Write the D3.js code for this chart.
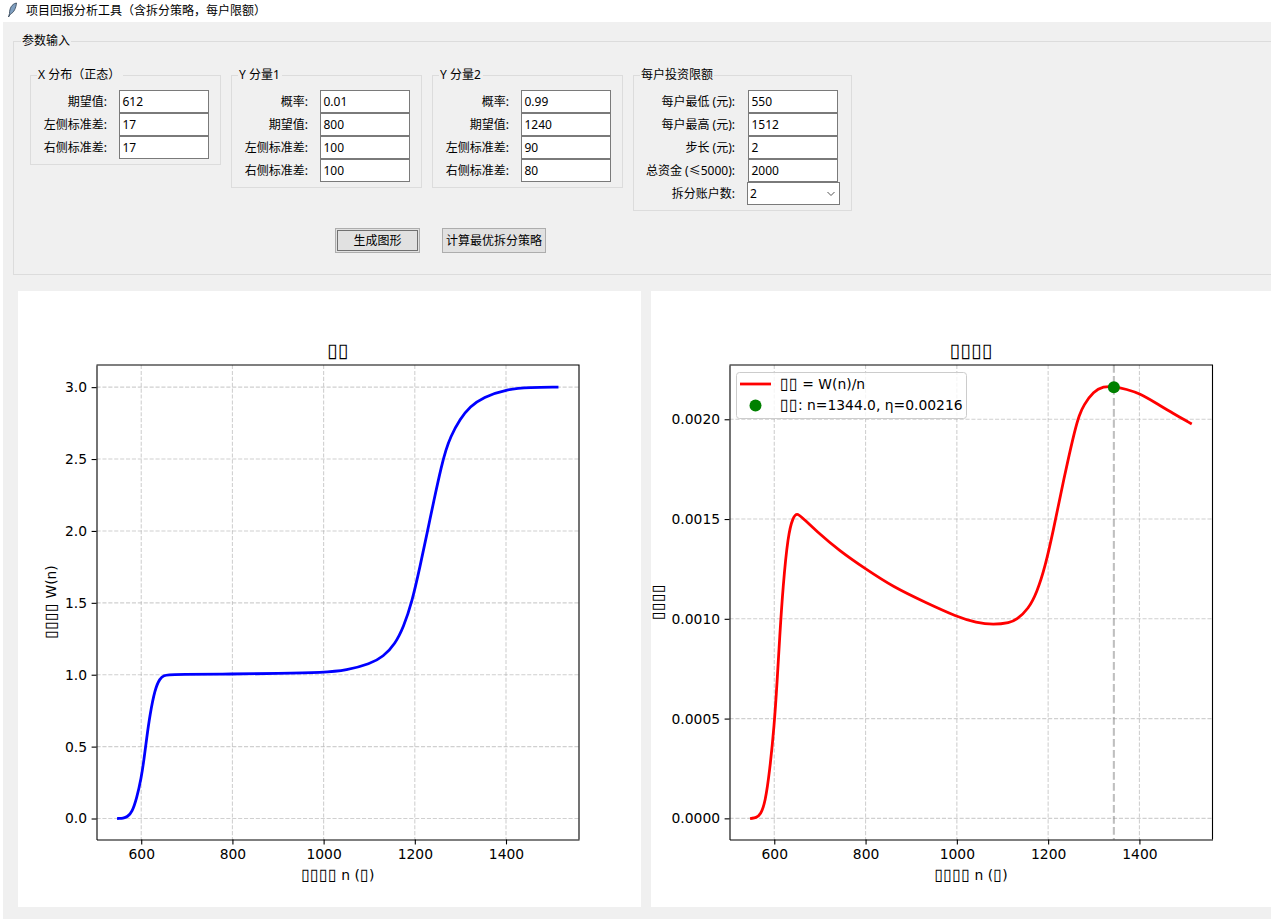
<!DOCTYPE html>
<html lang="zh">
<head>
<meta charset="utf-8">
<title>项目回报分析工具</title>
<script src="https://d3js.org/d3.v7.min.js"></script>
<style>
    html, body { margin: 0; padding: 0; background: #fff; overflow: hidden; }
    svg { display: block; }
    .ui text { font-family: "Noto Sans", "Noto Sans CJK SC", sans-serif; font-size: 12px; fill: #000; }
    .plot text { font-family: "DejaVu Sans", sans-serif; font-size: 13.89px; fill: #000; }
    .plot .domain, .plot .tick line { stroke: #000; stroke-width: 1.1px; }
    .grid line { stroke: #b0b0b0; stroke-opacity: .6; stroke-width: 1.1px; stroke-dasharray: 4.1 1.8; }
</style>
</head>
<body>
<div id="chart"></div>
<script>
// values
var wN   = [550, 560, 570, 580, 590, 600, 606, 612, 619, 630, 641, 650, 660, 680, 800, 900, 1000, 1050, 1102, 1131, 1157, 1175, 1193.5, 1212, 1228, 1241, 1259, 1268, 1277.5, 1299.5, 1321, 1350, 1400, 1453, 1512];
var wVal = [0, 0.002, 0.012, 0.045, 0.14, 0.28, 0.41, 0.56, 0.72, 0.9, 0.975, 0.995, 1.0, 1.002, 1.005, 1.008, 1.015, 1.03, 1.075, 1.125, 1.215, 1.33, 1.5, 1.76, 2.0, 2.2, 2.46, 2.56, 2.65, 2.78, 2.865, 2.93, 2.985, 2.998, 3.0];

var etaN   = [550, 560, 570, 580, 590, 600, 606, 612, 619, 630, 641, 650, 660, 692, 743, 800, 860, 933, 1000, 1043, 1080, 1116, 1131, 1157, 1175, 1193.5, 1212, 1228, 1241, 1259, 1268, 1277.5, 1299.5, 1321, 1344, 1372, 1400, 1437, 1473, 1512];
var etaVal = [0, 0.000003, 0.000018, 0.000078, 0.000237, 0.000467, 0.000677, 0.000915, 0.00116, 0.00142, 0.00151, 0.00153, 0.00151, 0.00144, 0.00134, 0.00125, 0.00116, 0.00108, 0.00101, 0.00098, 0.00097, 0.00098, 0.000995, 0.00105, 0.00113, 0.00126, 0.00145, 0.00163, 0.00177, 0.00195, 0.00202, 0.00207, 0.00214, 0.002165, 0.002165, 0.00215, 0.00213, 0.00208, 0.00203, 0.00198];

var bestN = 1344.0;
var bestEta = 0.00216;

var xTicks = [600, 800, 1000, 1200, 1400];
var wTicks = [0, 0.5, 1, 1.5, 2, 2.5, 3];
var etaTicks = [0, 0.0005, 0.001, 0.0015, 0.002];

var xLabels = ["期望值:", "左侧标准差:", "右侧标准差:"];
var xInputs = ["612", "17", "17"];
var y1Labels = ["概率:", "期望值:", "左侧标准差:", "右侧标准差:"];
var y1Inputs = ["0.01", "800", "100", "100"];
var y2Inputs = ["0.99", "1240", "90", "80"];
var limitLabels = ["每户最低 (元):", "每户最高 (元):", "步长 (元):", "总资金 (≤5000):", "拆分账户数:"];
var limitInputs = ["550", "1512", "2", "2000", "2"];

var BOX = "\u25AF"; // the picture shows missing-glyph boxes in the plot text

var svg = d3.select("#chart").append("svg")
    .attr("width", 1271)
    .attr("height", 919);

//____________________________ window and form ____________________________

var ui = svg.append("g").attr("class", "ui");

ui.append("rect").attr("x", 3).attr("y", 22).attr("width", 1268).attr("height", 897).attr("fill", "#f0f0f0");

ui.append("path")
    .attr("d", "M16.5 3 C11.5 4 9.5 8.5 9.5 13.5 L8.5 17 L10.5 14 C14 12.5 16 8 16.5 3 Z")
    .attr("fill", "#7f9fc0")
    .attr("stroke", "#2d3d50")
    .attr("stroke-width", 0.8);
ui.append("text").attr("x", 26).attr("y", 14.5).text("项目回报分析工具（含拆分策略，每户限额）");

function frame(x0, y0, x1, y1, label, labelX, labelW) {
    ui.append("rect")
        .attr("x", x0).attr("y", y0)
        .attr("width", x1 - x0).attr("height", y1 - y0)
        .attr("fill", "none")
        .attr("stroke", "#dcdcdc");
    ui.append("rect")
        .attr("x", labelX - 1).attr("y", y0 - 3)
        .attr("width", labelW + 2).attr("height", 6)
        .attr("fill", "#f0f0f0");
    ui.append("text").attr("x", labelX).attr("y", y0 + 3.5).text(label);
}

function entry(x0, y0, w, h, value) {
    ui.append("rect")
        .attr("x", x0).attr("y", y0)
        .attr("width", w).attr("height", h)
        .attr("fill", "#fff")
        .attr("stroke", "#7a7a7a");
    ui.append("text").attr("x", x0 + 3).attr("y", y0 + h / 2 + 4.5).text(value);
}

function form(labels, values, labelRight, entryX) {
    labels.forEach(function(d, i) {
        var y0 = 90.5 + i * 23;
        ui.append("text")
            .attr("x", labelRight).attr("y", y0 + 15.5)
            .attr("text-anchor", "end")
            .text(d);
        if (i < 4) entry(entryX, y0, 89, 22, values[i]);
    });
}

frame(13.5, 41.5, 1280, 274.5, "参数输入", 22, 48);
frame(30.5, 75.5, 220.5, 164.5, "X 分布（正态）", 38, 84);
frame(231.5, 75.5, 421.5, 187.5, "Y 分量1", 239, 42);
frame(432.5, 75.5, 622.5, 187.5, "Y 分量2", 440, 42);
frame(633.5, 75.5, 851.5, 210.5, "每户投资限额", 641, 72);

form(xLabels, xInputs, 107, 119.5);
form(y1Labels, y1Inputs, 308, 320.5);
form(y1Labels, y2Inputs, 509, 521.5);
form(limitLabels, limitInputs, 735, 748.5);

// combobox
ui.append("rect")
    .attr("x", 747.5).attr("y", 182.5).attr("width", 92).attr("height", 22)
    .attr("fill", "#fff").attr("stroke", "#7a7a7a");
ui.append("text").attr("x", 750).attr("y", 198).text(limitInputs[4]);
ui.append("path")
    .attr("d", "M827.5 192 L831 195.5 L834.5 192")
    .attr("fill", "none").attr("stroke", "#555");

function button(x0, x1, label, focused) {
    ui.append("rect")
        .attr("x", x0).attr("y", 228.5).attr("width", x1 - x0).attr("height", 24)
        .attr("fill", "#e1e1e1").attr("stroke", "#adadad");
    if (focused) {
        ui.append("rect")
            .attr("x", x0 + 2).attr("y", 230.5).attr("width", x1 - x0 - 4).attr("height", 20)
            .attr("fill", "none").attr("stroke", "#000").attr("stroke-dasharray", "1 1");
    }
    ui.append("text")
        .attr("x", (x0 + x1) / 2).attr("y", 245)
        .attr("text-anchor", "middle")
        .text(label);
}
button(335.5, 419.5, "生成图形", true);
button(442.5, 545.5, "计算最优拆分策略", false);

ui.append("rect").attr("x", 18).attr("y", 291).attr("width", 623).attr("height", 616).attr("fill", "#fff");
ui.append("rect").attr("x", 651).attr("y", 291).attr("width", 620).attr("height", 616).attr("fill", "#fff");

//____________________________ plots ____________________________

var top_ = 365, bottom = 839.5;

// runs of boxes are set a little larger so they come out tofu sized
function boxed(sel, str) {
    str.split(/(\u25AF+)/).forEach(function(part) {
        if (!part) return;
        var t = sel.append("tspan").text(part);
        if (part.charAt(0) == BOX) t.style("font-size", "1.17em");
    });
    return sel;
}

function plot(left, right, yDomain, yTickVals, yFormat) {
    var g = svg.append("g").attr("class", "plot");
    var x = d3.scaleLinear().domain([501.9, 1560.1]).range([left, right]);
    var y = d3.scaleLinear().domain(yDomain).range([bottom, top_]);

    var grid = g.append("g").attr("class", "grid");
    grid.selectAll(".gx").data(xTicks).enter().append("line")
        .attr("x1", x).attr("x2", x)
        .attr("y1", top_).attr("y2", bottom);
    grid.selectAll(".gy").data(yTickVals).enter().append("line")
        .attr("x1", left).attr("x2", right)
        .attr("y1", y).attr("y2", y);

    return { g: g, x: x, y: y, left: left, right: right, yTickVals: yTickVals, yFormat: yFormat };
}

function finish(p, title, xLabel, yLabel, yLabelX) {
    var g = p.g;
    g.append("g")
        .attr("transform", "translate(0," + bottom + ")")
        .call(d3.axisBottom(p.x).tickValues(xTicks).tickSize(4.9).tickPadding(4.5).tickSizeOuter(0).tickFormat(d3.format("d")));
    g.append("g")
        .attr("transform", "translate(" + p.left + ",0)")
        .call(d3.axisLeft(p.y).tickValues(p.yTickVals).tickSize(4.9).tickPadding(4.5).tickSizeOuter(0).tickFormat(p.yFormat));
    // top and right spines
    g.append("path")
        .attr("d", "M" + p.left + "," + top_ + "H" + p.right + "V" + bottom)
        .attr("fill", "none").attr("stroke", "#000").attr("stroke-width", 1.1);

    var cx = (p.left + p.right) / 2;
    boxed(g.append("text").attr("x", cx).attr("y", 357).attr("text-anchor", "middle").style("font-size", "16.67px"), title);
    boxed(g.append("text").attr("x", cx).attr("y", 880).attr("text-anchor", "middle"), xLabel);
    boxed(g.append("text")
        .attr("transform", "translate(" + yLabelX + ",602) rotate(-90)")
        .attr("text-anchor", "middle"), yLabel);
}

function curve(p, ns, vals, color) {
    var line = d3.line()
        .x(function(d) { return p.x(d); })
        .y(function(d, i) { return p.y(vals[i]); })
        .curve(d3.curveBasis);
    p.g.append("path")
        .attr("d", line(ns))
        .attr("fill", "none")
        .attr("stroke", color)
        .attr("stroke-linecap", "square")
        .attr("stroke-width", 2.78);
}

// left plot
var p1 = plot(96.5, 579, [-0.146, 3.154], wTicks, d3.format(".1f"));
curve(p1, wN, wVal, "#0000ff");
finish(p1, BOX + BOX, BOX + BOX + BOX + BOX + " n (" + BOX + ")", BOX + BOX + BOX + BOX + " W(n)", 56);

// right plot
var p2 = plot(729.5, 1212.5, [-0.000106, 0.002272], etaTicks, d3.format(".4f"));
curve(p2, etaN, etaVal, "#ff0000");

p2.g.append("line")
    .attr("x1", p2.x(bestN)).attr("x2", p2.x(bestN))
    .attr("y1", top_).attr("y2", bottom)
    .attr("stroke", "#808080")
    .attr("stroke-opacity", 0.5)
    .attr("stroke-width", 2.08)
    .attr("stroke-dasharray", "7.7 3.3");

p2.g.append("circle")
    .attr("cx", p2.x(bestN))
    .attr("cy", p2.y(bestEta))
    .attr("r", 6)
    .attr("fill", "#008000");

finish(p2, BOX + BOX + BOX + BOX, BOX + BOX + BOX + BOX + " n (" + BOX + ")", BOX + BOX + BOX + BOX, 663);

// legend
var legend = p2.g.append("g");
legend.append("rect")
    .attr("x", 736.5).attr("y", 372.5).attr("width", 230).attr("height", 46).attr("rx", 3)
    .attr("fill", "#fff").attr("fill-opacity", 0.8)
    .attr("stroke", "#ccc");
legend.append("line")
    .attr("x1", 740).attr("x2", 771).attr("y1", 384).attr("y2", 384)
    .attr("stroke", "#ff0000").attr("stroke-width", 2.78);
legend.append("circle").attr("cx", 755.5).attr("cy", 405.5).attr("r", 6).attr("fill", "#008000");
boxed(legend.append("text").attr("x", 780).attr("y", 389), BOX + BOX + " = W(n)/n");
boxed(legend.append("text").attr("x", 780).attr("y", 410),
    BOX + BOX + ": n=" + bestN.toFixed(1) + ", η=" + bestEta.toFixed(5));
</script>
</body>
</html>
